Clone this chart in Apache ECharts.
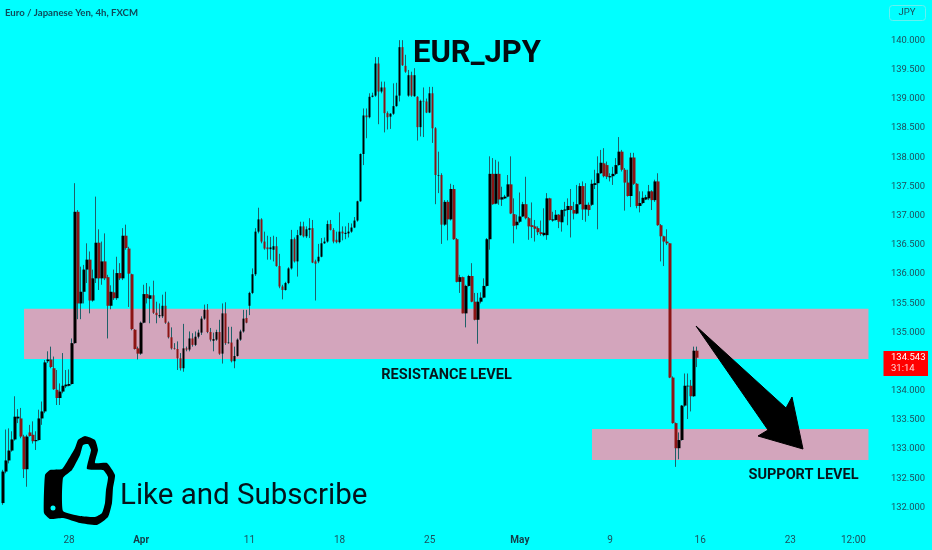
<!DOCTYPE html>
<html><head><meta charset="utf-8">
<style>html,body{margin:0;padding:0;background:#00ffff}#c{width:932px;height:550px}</style>
<script src="https://cdn.jsdelivr.net/npm/echarts@6/dist/echarts.min.js"></script>
</head><body><div id="c"></div>
<script>
const opens=[
132.05,132.59,132.78,132.95,133.14,133.50,133.50,133.19,132.63,133.26,
133.22,133.11,133.13,133.50,133.62,134.48,134.51,134.36,133.99,133.85,
133.96,134.05,134.06,134.09,134.79,137.04,135.47,135.67,136.05,136.22,
135.52,135.90,136.51,135.90,136.19,135.92,135.43,135.66,135.56,135.99,
135.90,136.63,136.41,135.97,135.02,134.70,134.61,135.14,135.63,135.55,
135.61,135.31,135.25,135.25,135.43,135.14,134.89,134.70,134.69,134.53,
134.36,134.70,134.68,134.87,134.76,134.90,134.97,135.21,135.36,134.98,
134.83,134.85,134.98,134.61,135.30,134.79,134.80,134.48,134.57,134.85,
134.99,135.22,135.43,135.65,135.97,136.70,136.91,136.53,136.43,136.40,
136.39,136.45,136.11,135.76,135.70,135.82,136.07,136.57,136.19,136.64,
136.79,136.62,136.73,136.76,136.19,136.19,136.27,136.50,136.53,136.83,
136.73,136.56,136.52,136.70,136.66,136.67,136.70,136.77,136.89,137.22,
138.03,138.69,138.66,139.01,139.03,139.58,139.10,139.17,138.73,138.67,
138.72,138.85,139.03,139.86,139.54,139.03,139.38,139.02,139.01,138.49,
138.94,138.93,138.74,139.07,138.47,137.66,137.67,136.82,137.21,136.91,
137.43,136.57,135.84,135.92,135.30,135.77,135.94,135.50,135.19,135.50,
135.57,135.77,136.57,137.69,137.18,137.69,137.25,137.27,137.30,137.51,
137.00,136.81,136.87,136.96,137.17,136.93,136.81,136.79,136.76,136.69,
136.64,136.64,137.27,136.89,136.90,136.99,136.86,137.06,137.07,137.14,
137.07,137.01,137.17,137.48,137.08,137.16,137.16,137.50,137.53,137.70,
137.87,137.84,137.63,137.65,137.69,137.84,138.07,137.76,137.54,137.31,
137.97,137.52,137.14,137.19,137.25,137.27,137.39,137.24,137.56,136.81,
136.62,136.53,136.50,134.20,133.42,132.99,133.13,133.72,134.05,134.06,133.88,134.66];
const closes=[
132.59,132.78,132.95,133.14,133.53,133.53,133.19,132.63,133.19,133.20,
133.11,133.13,133.50,133.62,134.46,134.51,134.38,134.00,133.85,133.96,
134.06,134.08,134.09,134.79,137.04,135.47,135.67,136.05,136.22,135.52,
135.90,136.51,135.90,136.19,135.90,135.43,135.67,135.56,135.99,135.90,
136.63,136.42,135.98,135.03,134.69,134.61,135.14,135.63,135.56,135.61,
135.31,135.27,135.27,135.43,135.14,134.89,134.70,134.69,134.53,134.36,
134.70,134.68,134.87,134.76,134.90,134.97,135.21,135.36,134.98,134.85,
134.86,134.98,134.61,135.30,134.79,134.80,134.48,134.57,134.85,134.99,
135.21,135.14,135.65,135.97,136.70,136.91,136.53,136.41,136.40,136.43,
136.45,136.11,135.76,135.70,135.82,136.07,136.57,136.19,136.64,136.79,
136.62,136.74,136.76,136.17,136.15,136.27,136.50,136.53,136.83,136.73,
136.53,136.52,136.70,136.67,136.68,136.70,136.77,136.89,137.22,138.03,
138.69,138.66,139.01,139.03,139.58,139.10,139.17,138.73,138.66,138.72,
138.85,139.03,139.86,139.55,139.44,139.38,139.03,139.38,138.49,138.94,
138.93,138.74,139.07,138.47,137.67,137.67,136.82,137.21,136.91,137.43,
136.57,135.84,135.92,135.30,135.77,135.94,135.50,135.19,135.50,135.57,
135.77,136.57,137.69,137.17,137.69,137.25,137.29,137.30,137.51,137.01,
136.80,136.87,136.96,137.17,136.93,136.79,136.78,136.75,136.69,136.66,
136.68,137.27,136.90,136.91,136.99,136.87,137.07,137.08,137.14,137.07,
137.01,137.17,137.48,137.08,137.16,137.07,137.52,137.53,137.70,137.88,
137.65,137.64,137.65,137.69,137.84,138.07,137.76,137.54,137.31,137.97,
137.52,137.14,137.19,137.28,137.29,137.39,137.24,137.56,136.81,136.62,
136.53,136.50,134.20,133.42,132.99,133.13,133.72,134.06,134.06,133.88,134.66,134.54];
const lows=[
132.02,132.56,132.73,132.93,133.12,133.42,133.16,132.48,132.33,133.19,
133.07,132.96,133.12,133.39,133.59,134.45,134.36,133.99,133.73,133.73,
133.93,134.02,134.05,134.08,134.78,135.20,135.20,135.47,135.82,135.30,
135.50,135.82,135.70,135.79,135.87,134.87,135.37,135.53,135.53,135.87,
135.87,136.39,135.41,135.01,134.68,134.51,134.59,135.13,135.47,135.13,
135.29,135.13,135.22,135.22,135.12,134.87,134.68,134.68,134.33,134.32,
134.30,134.65,134.65,134.73,134.74,134.87,134.93,135.19,134.96,134.82,
134.65,134.83,134.59,134.44,134.76,134.78,134.46,134.36,134.56,134.83,
134.97,135.13,135.27,135.63,135.94,136.67,136.50,136.39,136.22,136.22,
136.19,136.10,135.73,135.54,135.69,135.80,136.05,136.17,135.93,136.63,
136.60,136.59,136.59,136.16,135.52,136.16,136.26,136.49,136.51,136.72,
136.50,136.50,136.50,136.55,136.57,136.60,136.68,136.76,136.87,137.21,
137.84,138.30,138.64,139.00,139.01,138.54,139.07,138.40,138.45,138.46,
138.70,138.84,138.93,139.54,139.42,139.01,139.01,139.01,138.26,138.33,
138.32,138.73,138.73,138.22,137.17,137.36,136.49,136.80,136.55,136.89,
136.56,135.83,135.65,135.30,135.06,135.76,135.49,135.18,134.78,135.47,
135.56,135.76,136.39,137.16,137.17,137.16,137.14,137.26,137.29,137.00,
136.50,136.74,136.85,136.95,136.91,136.56,136.59,136.53,136.64,136.63,
136.62,136.56,136.89,136.87,136.89,136.76,136.70,136.96,136.81,136.60,
136.91,137.00,137.16,136.90,136.87,136.97,137.14,137.43,136.74,137.69,
137.63,137.60,137.56,137.50,137.67,137.83,137.73,137.06,137.30,137.12,
137.50,137.10,137.03,137.17,137.24,137.24,137.07,137.21,136.80,136.19,
136.11,136.47,134.19,133.41,132.67,132.80,133.12,133.70,133.49,133.62,133.87,134.38];
const highs=[
132.62,133.31,133.33,133.28,133.88,133.66,133.68,133.22,133.22,133.39,
133.45,133.28,133.65,133.79,134.50,134.65,134.73,134.56,134.33,134.10,
134.62,134.33,134.34,134.87,137.53,137.07,136.10,136.13,136.50,136.36,
136.05,137.30,136.74,136.53,136.67,135.96,135.78,136.05,136.27,136.16,
136.76,136.82,136.44,135.98,135.03,134.73,135.16,135.79,135.82,135.76,
135.86,135.50,135.47,135.62,135.67,135.16,135.06,134.79,134.82,134.62,
135.12,134.73,134.99,134.96,134.99,135.02,135.25,135.45,135.46,135.05,
134.97,135.02,135.19,135.47,135.49,135.07,135.07,134.73,134.87,135.02,
135.36,135.36,135.67,136.07,136.76,137.11,136.93,136.70,136.63,136.61,
136.63,136.61,136.32,135.79,135.84,136.09,136.73,136.60,136.73,136.87,
136.87,136.79,136.93,136.90,136.22,136.49,136.59,136.60,136.89,136.90,
136.76,136.70,137.03,136.79,136.79,136.85,136.84,136.95,137.23,138.04,
138.81,138.81,139.07,139.08,139.69,139.69,139.27,139.27,138.76,138.73,
139.24,139.25,139.98,139.98,139.73,139.47,139.44,139.50,139.02,138.96,
139.17,138.98,139.18,139.18,138.49,138.07,137.70,137.24,137.24,137.52,
137.50,136.59,135.96,135.93,135.79,135.96,136.16,135.65,135.65,135.66,
135.90,136.59,137.99,137.96,137.93,137.90,137.47,137.33,137.67,137.99,
137.27,136.99,137.37,137.21,137.64,136.95,137.20,136.90,136.79,136.89,
137.10,137.36,137.28,137.04,137.07,137.00,137.08,137.21,137.27,137.43,
137.21,137.50,137.53,137.56,137.53,137.20,137.59,137.76,137.99,138.10,
138.13,137.90,137.70,137.81,137.96,138.32,138.10,137.79,137.76,138.05,
138.05,137.53,137.39,137.39,137.33,137.50,137.41,137.59,137.70,136.83,
136.63,136.74,136.50,134.22,133.43,133.26,133.73,134.27,134.27,134.16,134.73,134.73];

const tickIndex=[22,46,82,112,142,172,202,232,262,283];
const tickText=['28','Apr','11','18','25','May','9','16','23','12:00'];
const boldTicks=['Apr','May'];
const slotCount=294;

const resistanceZone={from:7,to:288,top:135.38,bottom:134.52};
const supportZone={from:196,to:288,top:133.32,bottom:132.79};

const titleText='Euro / Japanese Yen, 4h, FXCM';
const headlineText='EUR_JPY';
const resistanceText='RESISTANCE LEVEL';
const supportText='SUPPORT LEVEL';
const ctaText='Like and Subscribe';
const currencyText='JPY';
const lastPriceText='134.543';
const countdownText='31:14';

const categories=Array.from({length:slotCount},(_,i)=>{
  const k=tickIndex.indexOf(i);
  return k>=0?tickText[k]:'';
});
const candleData=opens.map((o,i)=>[o,closes[i],lows[i],highs[i]]);
const bodyData=opens.map((o,i)=>[o,closes[i],Math.min(o,closes[i]),Math.max(o,closes[i])]);

const LABEL='#1d4f5c';
const chart=echarts.init(document.getElementById('c'),null,{renderer:'canvas'});
chart.setOption({
  animation:false,
  backgroundColor:'#00ffff',
  grid:{left:0,width:885,top:39,height:467},
  xAxis:{type:'category',data:categories,boundaryGap:true,
    axisLine:{show:false},axisTick:{show:false},splitLine:{show:false},
    axisLabel:{interval:0,margin:29,hideOverlap:false,fontFamily:'Roboto',fontSize:10,color:LABEL,
      formatter:v=>boldTicks.includes(v)?'{b|'+v+'}':v,
      rich:{b:{fontFamily:'Roboto',fontSize:10,fontWeight:'bold',color:'#143c48'}}}},
  yAxis:{type:'value',position:'right',min:132,max:140,interval:0.5,
    axisLine:{show:false},axisTick:{show:false},splitLine:{show:false},
    axisLabel:{margin:6,verticalAlign:'top',lineHeight:3,fontFamily:'Roboto',fontSize:9.4,color:LABEL,formatter:v=>v.toFixed(3)}},
  series:[
    {type:'candlestick',name:'wicks',data:candleData,barWidth:1,clip:false,z:4,
     itemStyle:{color:'#1f6068',color0:'#1f6068',borderColor:'#1f6068',borderColor0:'#1f6068',borderWidth:1},
     markArea:{silent:true,z:1,itemStyle:{color:'#d3a5bc',borderWidth:0},
       data:[
        [{xAxis:resistanceZone.from,yAxis:resistanceZone.top},{xAxis:resistanceZone.to,yAxis:resistanceZone.bottom}],
        [{xAxis:supportZone.from,yAxis:supportZone.top},{xAxis:supportZone.to,yAxis:supportZone.bottom}]
       ]}},
    {type:'candlestick',name:'bodies',data:bodyData,barWidth:3,clip:false,z:5,
     itemStyle:{color:'#000000',color0:'#8c1414',borderColor:'#000000',borderColor0:'#8c1414',borderWidth:0}}
  ],
  graphic:[
    {type:'text',z:50,left:5,top:8,style:{text:titleText,font:'bold 9.6px Lato',fill:'#0f4a5a'}},
    {type:'rect',z:50,shape:{x:889.5,y:5.5,width:36,height:15,r:3},style:{fill:'#00ffff',stroke:'#66f0f0',lineWidth:1}},
    {type:'text',z:51,x:907,y:13,style:{text:currencyText,font:'9.5px Roboto',fill:LABEL,align:'center',verticalAlign:'middle'}},
    {type:'rect',z:50,shape:{x:883.5,y:351,width:44.5,height:25},style:{fill:'#ff0000'}},
    {type:'text',z:51,x:891,y:358,style:{text:lastPriceText,font:'9.5px Roboto',fill:'#ffffff',verticalAlign:'middle'}},
    {type:'text',z:51,x:891,y:369,style:{text:countdownText,font:'9.5px Roboto',fill:'#ffd8d8',verticalAlign:'middle'}},
    {type:'text',z:50,x:477,y:54.5,style:{text:headlineText,font:'bold 31px Roboto',fill:'#050a0f',align:'center',verticalAlign:'middle'}},
    {type:'text',z:50,x:446.5,y:375,style:{text:resistanceText,font:'bold 14.5px Roboto',fill:'#08161c',align:'center',verticalAlign:'middle'}},
    {type:'text',z:50,x:803.5,y:475.5,style:{text:supportText,font:'bold 14.5px Roboto',fill:'#08161c',align:'center',verticalAlign:'middle'}},
    {type:'text',z:50,x:120,y:497,style:{text:ctaText,font:'29.5px Roboto',fill:'#06121a',verticalAlign:'middle'}},
    {type:'polygon',z:50,shape:{points:[[696,326],[768,430],[758,436],[803,449],[792,397],[786,408]]},style:{fill:'#000',stroke:'#000',lineWidth:1,lineJoin:'round'}},
    {type:'polygon',z:50,shape:{smooth:0.15,points:[[45,475],[50,470],[62,469],[68,460],[75,448],[78,440],[85,436],[95,440],[98,450],[95,463],[107,463],[115,475],[113,488],[112,503],[108,517],[97,525],[80,523],[63,518],[50,519],[44,513]]},style:{fill:'#000'}},
    {type:'polygon',z:51,shape:{smooth:0.15,points:[[63,478],[72,470],[80,455],[83,445],[88,444],[91,450],[87,469],[103,470],[108,477],[106,490],[105,503],[102,513],[95,517],[80,516],[63,511]]},style:{fill:'#00ffff'}},
    {type:'circle',z:51,shape:{cx:53,cy:508,r:2.5},style:{fill:'#00ffff'}}
  ]
});
</script></body></html>
